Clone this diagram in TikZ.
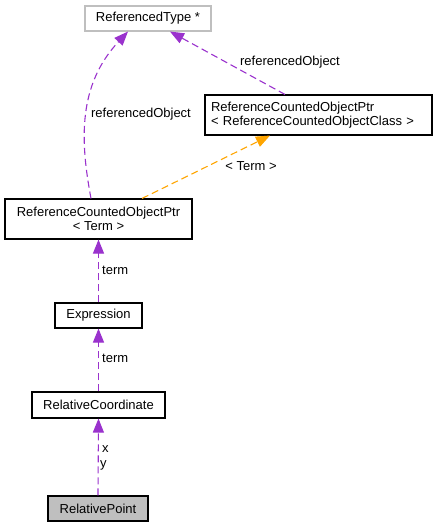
\documentclass[tikz,border=0pt]{standalone}
\usepackage{fontspec}
\setmainfont{Liberation Sans}
\usetikzlibrary{arrows.meta}
\definecolor{edgepurple}{HTML}{9A32CD}
\definecolor{edgeorange}{HTML}{FFA500}
\definecolor{boxgray}{HTML}{BFBFBF}
\tikzset{
  cls/.style={draw=black, line width=1.1pt, inner sep=0pt, font=\fontsize{13}{15}\selectfont, text=black},
  rel/.style={draw=edgepurple, line width=1.1pt, dash pattern=on 7pt off 4pt,
    -{Triangle[length=14pt,width=11pt]}},
  inh/.style={draw=edgeorange, line width=1.1pt, dash pattern=on 7pt off 4pt,
    -{Triangle[length=14pt,width=11pt]}},
  lbl/.style={font=\fontsize{13}{15}\selectfont, inner sep=0pt, text=black},
}
\begin{document}
\begin{tikzpicture}[x=1pt,y=-1pt]
\useasboundingbox (0,0) rectangle (437,528);
\node[cls, draw=boxgray, minimum width=126pt, minimum height=25pt] (rt) at (148,18.5) {ReferencedType *};
\node[cls, minimum width=227pt, minimum height=40pt, align=left, text width=215pt] (rcoc) at (318.5,115)
  {ReferenceCountedObjectPtr\\[-1pt]{<}\ ReferenceCountedObjectClass\ {>}};
\node[cls, minimum width=187pt, minimum height=40pt, align=center] (rct) at (98.5,219)
  {ReferenceCountedObjectPtr\\[-1pt]{<}\ Term\ {>}};
\node[cls, minimum width=87pt, minimum height=25pt] (expr) at (98.5,315.5) {Expression};
\node[cls, minimum width=133pt, minimum height=26pt] (rc) at (98.5,405) {RelativeCoordinate};
\node[cls, fill=boxgray, minimum width=100pt, minimum height=25pt] (rp) at (98,508.5) {RelativePoint};

% edges
\draw[rel] ([xshift=-7.5pt]rct.north) .. controls (80,140) and (78,85) .. ([xshift=-20pt]rt.south);
\node[lbl] (l1) at (141,114) {referencedObject};
\draw[rel] ([xshift=-33.5pt]rcoc.north) -- ([xshift=22pt]rt.south);
\node[lbl] (l2) at (290,62) {referencedObject};
\draw[inh] ([xshift=43.5pt]rct.north) -- ([xshift=-48.5pt]rcoc.south);
\node[lbl] (l3) at (251,166) {{<}\ Term\ {>}};
\draw[rel] (expr.north) -- (rct.south);
\node[lbl, anchor=west] (l4) at (102,270) {term};
\draw[rel] (rc.north) -- (expr.south);
\node[lbl, anchor=west] (l5) at (102,358) {term};
\draw[rel] (rp.north) -- (rc.south);
\node[lbl, anchor=west] (l6) at (102,449) {x};
\node[lbl, anchor=west] (l7) at (100,465) {y};
\end{tikzpicture}
\end{document}
